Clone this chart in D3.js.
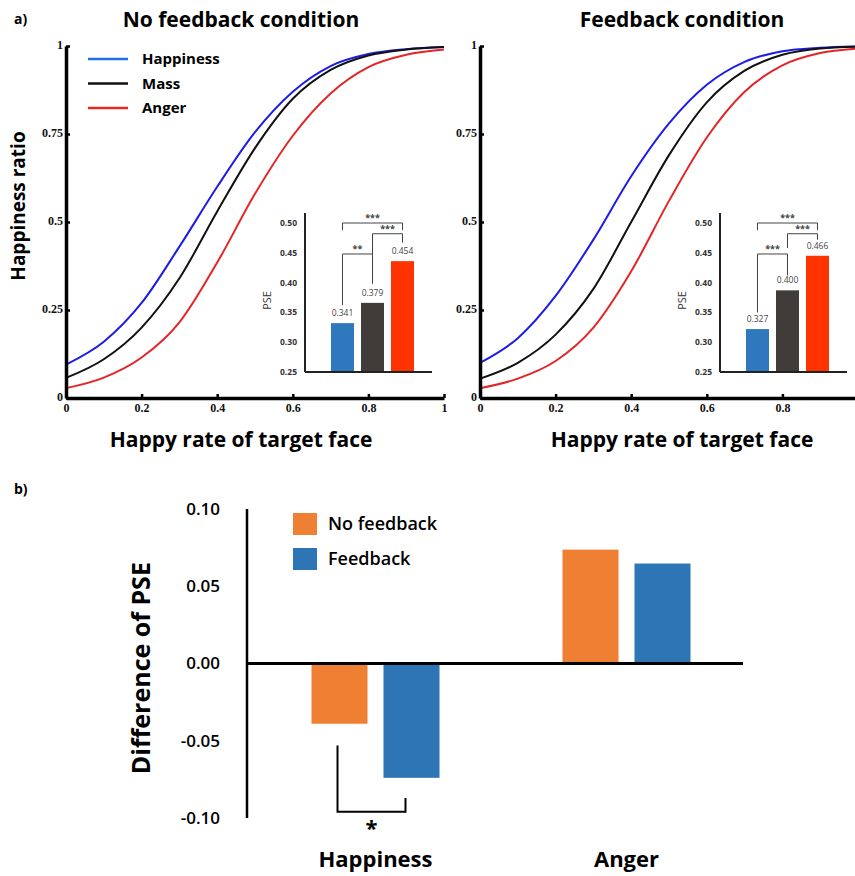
<!DOCTYPE html>
<html>
<head>
<meta charset="utf-8">
<script src="https://cdn.jsdelivr.net/npm/d3@7"></script>
<style>
  body { margin: 0; background: #fff; }
  svg { display: block; }
</style>
</head>
<body>
<svg id="chart" width="855" height="876"></svg>
<script>
const SANS = '"Open Sans", "Noto Sans", sans-serif';
const SERIF = '"Liberation Serif", "DejaVu Serif", serif';

// psychometric curves at x = 0, 0.1, ..., 1
const xSamples = [0, 0.1, 0.2, 0.3, 0.4, 0.5, 0.6, 0.7, 0.8, 0.9, 1];
const emotions = ['Happiness', 'Mass', 'Anger'];

const noFbHappiness = [0.095, 0.16, 0.27, 0.43, 0.60, 0.755, 0.87, 0.943, 0.977, 0.991, 0.997];
const noFbMass      = [0.057, 0.11, 0.20, 0.34, 0.53, 0.71, 0.85, 0.932, 0.973, 0.990, 0.997];
const noFbAnger     = [0.028, 0.058, 0.115, 0.215, 0.385, 0.58, 0.745, 0.865, 0.94, 0.975, 0.990];

const fbHappiness = [0.10, 0.17, 0.29, 0.45, 0.63, 0.78, 0.89, 0.955, 0.985, 0.995, 0.999];
const fbMass      = [0.055, 0.10, 0.18, 0.31, 0.50, 0.69, 0.84, 0.93, 0.975, 0.993, 0.998];
const fbAnger     = [0.028, 0.055, 0.105, 0.20, 0.36, 0.56, 0.74, 0.87, 0.945, 0.98, 0.993];

const xTicks = [0, 0.2, 0.4, 0.6, 0.8, 1];
const xTicksRight = [0, 0.2, 0.4, 0.6, 0.8];   // the "1" of the right panel falls off the page
const yTicks = [0, 0.25, 0.5, 0.75, 1];

// inset PSE bars (bar heights as drawn, labels as printed)
const noFbPseBars   = [0.332, 0.366, 0.436];
const noFbPseLabels = ['0.341', '0.379', '0.454'];
const fbPseBars     = [0.322, 0.387, 0.445];
const fbPseLabels   = ['0.327', '0.400', '0.466'];
const pseTicks = [0.25, 0.30, 0.35, 0.40, 0.45, 0.50];

// significance brackets: bars a-b, top value, leg end values, stars
const noFbBrackets = [
    { a: 0, b: 1, top: 0.448, endA: 0.362, endB: 0.398, text: '**' },
    { a: 1, b: 2, top: 0.482, endA: 0.448, endB: 0.467, text: '***' },
    { a: 0, b: 2, top: 0.500, endA: 0.488, endB: 0.488, text: '***' }
];
const fbBrackets = [
    { a: 0, b: 1, top: 0.448, endA: 0.350, endB: 0.412, text: '***' },
    { a: 1, b: 2, top: 0.482, endA: 0.458, endB: 0.472, text: '***' },
    { a: 0, b: 2, top: 0.500, endA: 0.488, endB: 0.488, text: '***' }
];

// panel b
const diffCategories = ['Happiness', 'Anger'];
const diffSeries = ['No feedback', 'Feedback'];
const diffNoFeedback = [-0.039, 0.0737];
const diffFeedback   = [-0.074, 0.0647];
const diffTicks = [-0.10, -0.05, 0.00, 0.05, 0.10];

const curveColors = { Happiness: '#1c1ce6', Mass: '#111', Anger: '#e42525' };
const legendColors = { Happiness: '#1f6fe0', Mass: '#111', Anger: '#e42a22' };
const insetColors = ['#2f78bd', '#3f3c3a', '#ff3300'];
const diffColors = { 'No feedback': '#ef7f32', 'Feedback': '#2e75b6' };

const svg = d3.select('#chart');

// panel labels
svg.append('text').attr('font-family', SANS).attr('x', 14).attr('y', 24)
    .attr('font-size', 14).attr('font-weight', 'bold').text('a)');
svg.append('text').attr('font-family', SANS).attr('x', 14).attr('y', 494)
    .attr('font-size', 14).attr('font-weight', 'bold').text('b)');

function drawPanel(opt) {
    const x = d3.scaleLinear().domain([0, 1]).range([opt.left, opt.right]);
    const y = d3.scaleLinear().domain([0, 1]).range([398, 46]);
    const g = svg.append('g');

    // title
    g.append('text').attr('font-family', SANS)
        .attr('x', opt.titleX).attr('y', 27)
        .attr('text-anchor', 'middle').attr('font-size', 21).attr('font-weight', 'bold')
        .text(opt.title);

    // curves
    const line = d3.line()
        .x((d, i) => x(xSamples[i]))
        .y(d => y(d))
        .curve(d3.curveMonotoneX);
    emotions.forEach(em => {
        g.append('path')
            .datum(opt.curves[em])
            .attr('d', line)
            .attr('fill', 'none')
            .attr('stroke', curveColors[em])
            .attr('stroke-width', 2);
    });

    // axes
    const xAxis = g.append('g').attr('transform', `translate(0,${y(0)})`)
        .call(d3.axisBottom(x).tickValues(opt.xTicks).tickFormat(d3.format('~g'))
            .tickSizeInner(-4).tickSizeOuter(0).tickPadding(5));
    const yAxis = g.append('g').attr('transform', `translate(${x(0)},0)`)
        .call(d3.axisLeft(y).tickValues(yTicks).tickFormat(d3.format('~g'))
            .tickSizeInner(-4).tickSizeOuter(0).tickPadding(3));
    [xAxis, yAxis].forEach(ax => {
        ax.attr('font-family', SERIF).attr('font-size', 12).attr('font-weight', 'bold');
        ax.select('.domain').attr('stroke', '#000').attr('stroke-width', 3.5);
        ax.selectAll('.tick line').attr('stroke', '#000').attr('stroke-width', 2.5);
        ax.selectAll('.tick text').attr('fill', '#111');
    });
    yAxis.selectAll('.tick text').attr('dy', '0.2em');

    // x title
    g.append('text').attr('font-family', SANS)
        .attr('x', opt.titleX).attr('y', 447)
        .attr('text-anchor', 'middle').attr('font-size', 21).attr('font-weight', 'bold')
        .text('Happy rate of target face');

    drawInset(opt.inset);
}

function drawInset(opt) {
    const y = d3.scaleLinear().domain([0.25, 0.5]).range([372, 223]);
    const x = d3.scaleBand().domain(d3.range(3))
        .range([opt.axisX + 22, opt.axisX + 113]).paddingInner(0.233).paddingOuter(0.133);
    const g = svg.append('g');

    g.selectAll('rect').data(opt.bars).enter().append('rect')
        .attr('x', (d, i) => x(i))
        .attr('width', x.bandwidth())
        .attr('y', d => y(d))
        .attr('height', d => y(0.25) - y(d))
        .attr('fill', (d, i) => insetColors[i]);

    g.selectAll('.val').data(opt.labels).enter().append('text')
        .attr('font-family', SANS)
        .attr('x', (d, i) => x(i) + x.bandwidth() / 2)
        .attr('y', (d, i) => y(opt.bars[i]) - 7)
        .attr('text-anchor', 'middle').attr('font-size', 8.5).attr('fill', '#444')
        .text(d => d);

    // axes
    g.append('line').attr('x1', opt.axisX).attr('x2', opt.axisX)
        .attr('y1', 213).attr('y2', y(0.25)).attr('stroke', '#222').attr('stroke-width', 2);
    g.append('line').attr('x1', opt.axisX).attr('x2', opt.axisX + 127)
        .attr('y1', y(0.25)).attr('y2', y(0.25)).attr('stroke', '#222').attr('stroke-width', 2);
    g.selectAll('.tk').data(pseTicks).enter().append('text')
        .attr('font-family', SANS)
        .attr('x', opt.axisX - 8).attr('y', d => y(d)).attr('dy', '0.35em')
        .attr('text-anchor', 'end').attr('font-size', 8.5).attr('font-weight', 'bold').attr('fill', '#333')
        .text(d => d3.format('.2f')(d));
    g.append('text').attr('font-family', SANS)
        .attr('transform', `translate(${opt.axisX - 34},${y(0.37)}) rotate(-90)`)
        .attr('text-anchor', 'middle').attr('font-size', 11).attr('fill', '#333')
        .text('PSE');

    // brackets
    opt.brackets.forEach(br => {
        const xa = x(br.a) + x.bandwidth() / 2;
        const xb = x(br.b) + x.bandwidth() / 2;
        g.append('path')
            .attr('d', `M${xa},${y(br.endA)}V${y(br.top)}H${xb}V${y(br.endB)}`)
            .attr('fill', 'none').attr('stroke', '#444').attr('stroke-width', 1);
        g.append('text').attr('font-family', SANS)
            .attr('x', (xa + xb) / 2).attr('y', y(br.top) - 2)
            .attr('text-anchor', 'middle').attr('font-size', 9).attr('font-weight', 'bold').attr('fill', '#444')
            .text(br.text);
    });
}

drawPanel({
    title: 'No feedback condition', titleX: 241, left: 66, right: 444, xTicks: xTicks,
    curves: { Happiness: noFbHappiness, Mass: noFbMass, Anger: noFbAnger },
    inset: { axisX: 305, bars: noFbPseBars, labels: noFbPseLabels, brackets: noFbBrackets }
});
drawPanel({
    title: 'Feedback condition', titleX: 682, left: 480, right: 858, xTicks: xTicksRight,
    curves: { Happiness: fbHappiness, Mass: fbMass, Anger: fbAnger },
    inset: { axisX: 720, bars: fbPseBars, labels: fbPseLabels, brackets: fbBrackets }
});

// y title of panel a
svg.append('text').attr('font-family', SANS)
    .attr('transform', 'translate(25,206) rotate(-90)')
    .attr('text-anchor', 'middle').attr('font-size', 19).attr('font-weight', 'bold')
    .text('Happiness ratio');

// legend of panel a
const legA = svg.append('g').attr('transform', 'translate(88,59)');
emotions.forEach((em, i) => {
    legA.append('line').attr('x1', 0).attr('x2', 40).attr('y1', i * 24.5).attr('y2', i * 24.5)
        .attr('stroke', legendColors[em]).attr('stroke-width', 2.5);
    legA.append('text').attr('font-family', SANS)
        .attr('x', 54).attr('y', i * 24.5).attr('dy', '0.35em')
        .attr('font-size', 15).attr('font-weight', 'bold').text(em);
});

// ---------- panel b ----------
const yD = d3.scaleLinear().domain([-0.1, 0.1]).range([818, 509]);
const xD = d3.scaleBand().domain(diffCategories).range([250, 752]);
const xS = d3.scaleBand().domain(diffSeries).range([0, 128]).paddingInner(0.222);
const gb = svg.append('g');
const hyphenFmt = d => d3.format('.2f')(d).replace('\u2212', '-');

const diffValues = { 'No feedback': diffNoFeedback, 'Feedback': diffFeedback };
diffCategories.forEach((cat, ci) => {
    diffSeries.forEach(s => {
        const v = diffValues[s][ci];
        gb.append('rect')
            .attr('x', xD(cat) + xD.bandwidth() / 2 - 64 + xS(s))
            .attr('width', xS.bandwidth())
            .attr('y', yD(Math.max(0, v)))
            .attr('height', Math.abs(yD(v) - yD(0)))
            .attr('fill', diffColors[s]);
    });
    gb.append('text').attr('font-family', SANS)
        .attr('x', xD(cat) + xD.bandwidth() / 2).attr('y', 867)
        .attr('text-anchor', 'middle').attr('font-size', 22).attr('font-weight', 'bold')
        .text(cat);
});

// axes
gb.append('line').attr('x1', 247).attr('x2', 247).attr('y1', yD(0.1)).attr('y2', yD(-0.1))
    .attr('stroke', '#000').attr('stroke-width', 2.5);
gb.append('line').attr('x1', 247).attr('x2', 743).attr('y1', yD(0)).attr('y2', yD(0))
    .attr('stroke', '#000').attr('stroke-width', 3);
gb.selectAll('.dtk').data(diffTicks).enter().append('text')
    .attr('font-family', SANS)
    .attr('x', 220).attr('y', d => yD(d)).attr('dy', '0.35em')
    .attr('text-anchor', 'end').attr('font-size', 17).attr('font-weight', 600)
    .text(hyphenFmt);
gb.append('text').attr('font-family', SANS)
    .attr('transform', `translate(150,${yD(-0.003)}) rotate(-90)`)
    .attr('text-anchor', 'middle').attr('font-size', 25).attr('font-weight', 'bold')
    .text('Difference of PSE');

// significance bracket between Happiness bars
const hx0 = xD('Happiness') + xD.bandwidth() / 2 - 64;
const bx1 = hx0 + xS('No feedback') + xS.bandwidth() / 2 - 2;
const bx2 = hx0 + xS('Feedback') + xS.bandwidth() / 2 - 6;
gb.append('path')
    .attr('d', `M${bx1},${yD(-0.053)}V${yD(-0.096)}H${bx2}V${yD(-0.087)}`)
    .attr('fill', 'none').attr('stroke', '#000').attr('stroke-width', 2);
gb.append('text').attr('font-family', SANS)
    .attr('x', (bx1 + bx2) / 2).attr('y', 836)
    .attr('text-anchor', 'middle').attr('font-size', 22).attr('font-weight', 'bold')
    .text('*');

// legend of panel b
const legB = svg.append('g').attr('transform', 'translate(293,513)');
diffSeries.forEach((s, i) => {
    legB.append('rect').attr('x', 0).attr('y', i * 35).attr('width', 24).attr('height', 22)
        .attr('fill', diffColors[s]);
    legB.append('text').attr('font-family', SANS)
        .attr('x', 35).attr('y', i * 35 + 11).attr('dy', '0.35em')
        .attr('font-size', 18).attr('font-weight', 600).text(s);
});
</script>
</body>
</html>
